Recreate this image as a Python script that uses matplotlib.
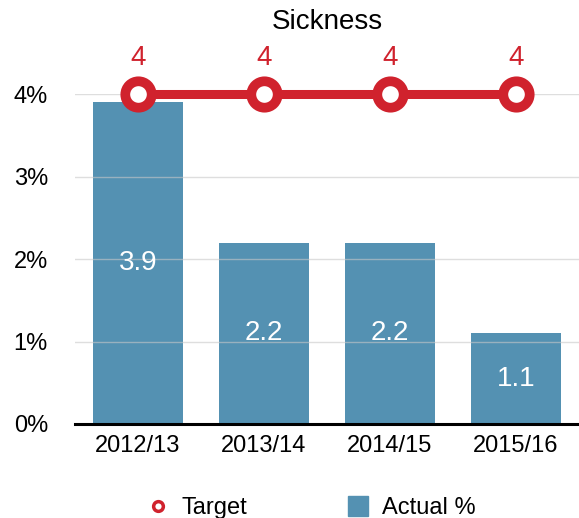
import matplotlib.pyplot as plt
import numpy as np

plt.rcParams['font.family'] = ['Liberation Sans', 'DejaVu Sans']

# chart data
years = ['2012/13', '2013/14', '2014/15', '2015/16']
actual = [3.9, 2.2, 2.2, 1.1]
target = [4, 4, 4, 4]
yticks = [0, 1, 2, 3, 4]

bar_col = '#5491b2'
red = '#d0222d'

fig = plt.figure(figsize=(5.79, 5.18), dpi=100)
ax = fig.add_axes([75 / 579, 94 / 518, 504 / 579, 330 / 518])

x = np.arange(len(years))
ax.bar(x, actual, width=0.71, color=bar_col, zorder=2, label='Actual %')
for y in yticks[1:]:
    ax.axhline(y, color='#c8c8c8', lw=1, zorder=3, alpha=0.6)

for xi, v in zip(x, actual):
    ax.text(xi, v / 2, f'{v:.1f}', color='white', fontsize=20,
            ha='center', va='center', zorder=4)

ax.plot(x, target, color=red, lw=6.5, marker='o', markersize=19,
        markeredgewidth=7, markerfacecolor='white', markeredgecolor=red,
        zorder=5, clip_on=False, label='Target')
for xi, v in zip(x, target):
    ax.annotate(f'{v}', (xi, v), xytext=(0, 26), textcoords='offset points',
                color=red, fontsize=20, ha='center', va='center')

ax.set_xlim(-0.5, 3.5)
ax.set_ylim(0, 4)
ax.set_xticks(x)
ax.set_xticklabels(years, fontsize=17)
ax.set_yticks(yticks)
ax.set_yticklabels([f'{t}%' for t in yticks], fontsize=17)
ax.tick_params(length=0, pad=8)
ax.tick_params(axis='y', pad=19.5)
for s in ['top', 'right', 'left']:
    ax.spines[s].set_visible(False)
ax.spines['bottom'].set_linewidth(2.2)
ax.spines['bottom'].set_color('black')

fig.text(327 / 579, 1 - 22 / 518, 'Sickness', fontsize=20, ha='center', va='center')

# legend
h_t = plt.Line2D([], [], color=red, marker='o', lw=0, markersize=7,
                 markeredgewidth=2.5, markerfacecolor='white', markeredgecolor=red)
h_a = plt.Line2D([], [], color=bar_col, marker='s', lw=0, markersize=14)
fig.legend([h_t, h_a], ['Target', 'Actual %'], loc='center',
           bbox_to_anchor=(311 / 579, 1 - 508 / 518), ncol=2, frameon=False,
           fontsize=17, handlelength=1.0, handletextpad=0.5, columnspacing=4.2)

fig.savefig('out.png', dpi=100)
